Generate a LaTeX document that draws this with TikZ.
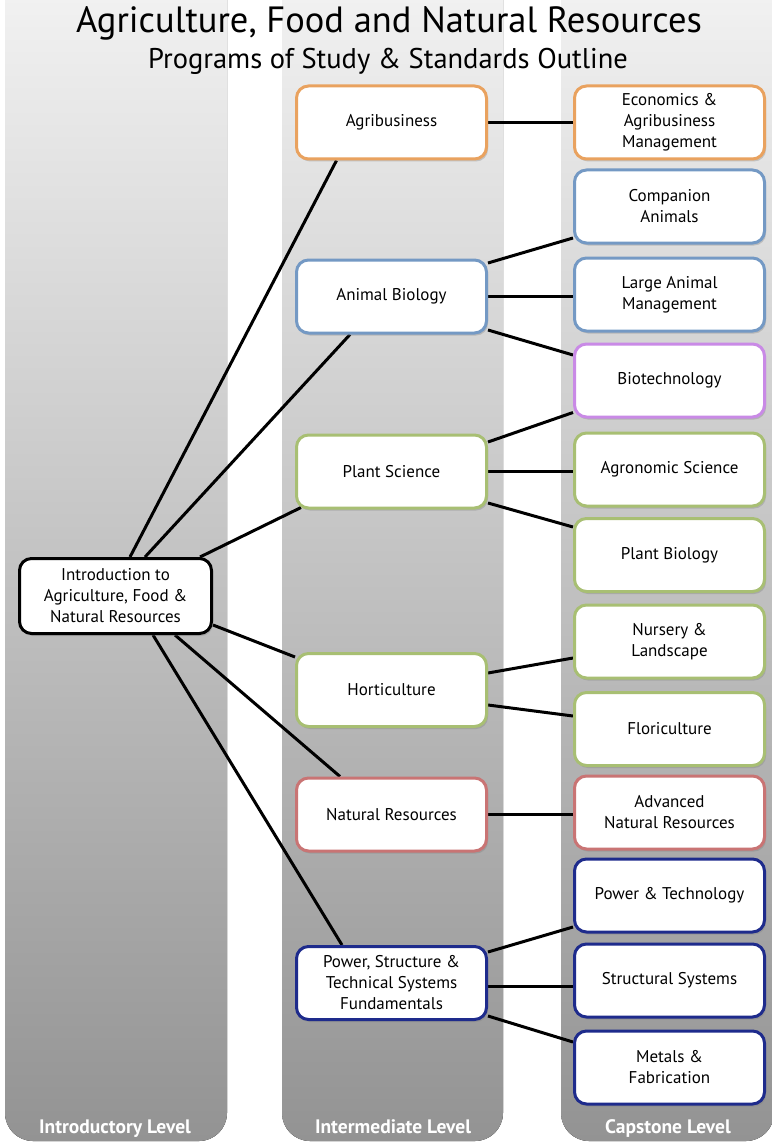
\documentclass[tikz,border=0pt]{standalone}
\usepackage{fontspec}
\setmainfont{PT Sans}
\usetikzlibrary{calc,shadows}
\definecolor{cOrange}{HTML}{E9A25F}
\definecolor{cLBlue}{HTML}{7499C4}
\definecolor{cPurple}{HTML}{C98AE6}
\definecolor{cGreen}{HTML}{A8BF73}
\definecolor{cRed}{HTML}{C97474}
\definecolor{cDBlue}{HTML}{1E2B8C}
\definecolor{colTop}{HTML}{F4F4F4}
\definecolor{colMid}{HTML}{D2D2D2}
\definecolor{colBot}{HTML}{939393}
\pgfdeclarelayer{bg}
\pgfdeclarelayer{edges}
\pgfsetlayers{bg,edges,main}
\tikzset{
  box/.style={draw, line width=3pt, fill=white, rounded corners=12pt,
    minimum width=190pt, minimum height=73pt, align=center, inner sep=2pt,
    font=\fontsize{17}{21}\selectfont,
    drop shadow={opacity=0.35, shadow xshift=1.5pt, shadow yshift=-2.5pt}},
  orangebox/.style={box, draw=cOrange},
  lbluebox/.style={box, draw=cLBlue},
  purplebox/.style={box, draw=cPurple},
  greenbox/.style={box, draw=cGreen},
  redbox/.style={box, draw=cRed},
  dbluebox/.style={box, draw=cDBlue},
  blackbox/.style={box, draw=black},
  conn/.style={line width=3pt, black},
  column/.style={top color=colTop, middle color=colMid, bottom color=colBot, rounded corners=28pt},
  levellabel/.style={text=white, anchor=base, font=\bfseries\fontsize{19.5}{22}\selectfont},
}
\begin{document}
\begin{tikzpicture}[x=1pt,y=-1pt]
\useasboundingbox (0,0) rectangle (771,1142);
\begin{pgfonlayer}{bg}
  \fill[white] (0,0) rectangle (771,1142);
  \fill[column] (5,-40) rectangle (227,1141);
  \fill[column] (282,-40) rectangle (503,1141);
  \fill[column] (561,-40) rectangle (774,1141);
\end{pgfonlayer}

% titles
\node (title) at (389,23) {\fontsize{36.5}{40}\selectfont Agriculture, Food and Natural Resources};
\node (subtitle) at (388,61) {\fontsize{28.5}{32}\selectfont Programs of Study \& Standards Outline};

% level labels
\node[levellabel] (lev1) at (115,1133) {Introductory Level};
\node[levellabel] (lev2) at (393,1133) {Intermediate Level};
\node[levellabel] (lev3) at (668,1133) {Capstone Level};

% introductory
\node[blackbox, minimum width=192pt, minimum height=75pt] (intro) at (115.5,596) {Introduction to\\Agriculture, Food \&\\Natural Resources};

% intermediate
\node[orangebox] (agri) at (391.5,122.5) {Agribusiness};
\node[lbluebox] (animal) at (391.5,296.5) {Animal Biology};
\node[greenbox] (plant) at (391.5,471.5) {Plant Science};
\node[greenbox] (horti) at (391.5,690) {Horticulture};
\node[redbox] (natres) at (391.5,814.5) {Natural Resources};
\node[dbluebox] (power) at (391.5,983) {Power, Structure \&\\Technical Systems\\Fundamentals};

% capstone
\node[orangebox] (econ) at (669.5,122.5) {Economics \&\\Agribusiness\\Management};
\node[lbluebox] (companion) at (669.5,206.5) {Companion\\Animals};
\node[lbluebox] (large) at (669.5,294.5) {Large Animal\\Management};
\node[purplebox] (biotech) at (669.5,380.5) {Biotechnology};
\node[greenbox] (agron) at (669.5,469.5) {Agronomic Science};
\node[greenbox] (plantbio) at (669.5,555) {Plant Biology};
\node[greenbox] (nursery) at (669.5,641.5) {Nursery \&\\Landscape};
\node[greenbox] (flori) at (669.5,729) {Floriculture};
\node[redbox] (advnr) at (669.5,812.5) {Advanced\\Natural Resources};
\node[dbluebox] (ptech) at (669.5,895.5) {Power \& Technology};
\node[dbluebox] (struct) at (669.5,980.5) {Structural Systems};
\node[dbluebox] (metals) at (669.5,1067.5) {Metals \&\\Fabrication};

\begin{pgfonlayer}{edges}
  % from introduction
  \draw[conn] ($(intro.north)+(14.5,0)$) -- ($(agri.south)+(-55,0)$);
  \draw[conn] ($(intro.north)+(29.5,0)$) -- ($(animal.south)+(-41.5,0)$);
  \draw[conn] ($(intro.north)+(84.5,0)$) -- ($(plant.south west)+(6,-2)$);
  \draw[conn] ($(intro.east)+(0,29)$) -- ($(horti.west)+(0,-33)$);
  \draw[conn] ($(intro.south)+(59.5,0)$) -- ($(natres.north)+(-51.5,0)$);
  \draw[conn] ($(intro.south)+(37.5,0)$) -- ($(power.north)+(-49.5,0)$);
  % intermediate to capstone
  \draw[conn] (agri.east) -- (agri.east -| econ.west);
  \draw[conn] ($(animal.east)+(0,-33.5)$) -- ($(companion.west)+(0,31.5)$);
  \draw[conn] (animal.east) -- (animal.east -| large.west);
  \draw[conn] ($(animal.east)+(0,33.5)$) -- ($(biotech.west)+(0,-25.5)$);
  \draw[conn] ($(plant.east)+(0,-29.5)$) -- ($(biotech.west)+(0,32)$);
  \draw[conn] (plant.east) -- (plant.east -| agron.west);
  \draw[conn] ($(plant.east)+(0,31.5)$) -- ($(plantbio.west)+(0,-28)$);
  \draw[conn] ($(horti.east)+(0,-17)$) -- ($(nursery.west)+(0,16.5)$);
  \draw[conn] ($(horti.east)+(0,15)$) -- ($(flori.west)+(0,-13)$);
  \draw[conn] (natres.east) -- (natres.east -| advnr.west);
  \draw[conn] ($(power.east)+(0,-31)$) -- ($(ptech.west)+(0,31.5)$);
  \draw[conn] ($(power.east)+(0,3)$) -- ($(power.east -| struct.west)+(0,3)$);
  \draw[conn] ($(power.east)+(0,33)$) -- ($(metals.west)+(0,-25.5)$);
\end{pgfonlayer}
\end{tikzpicture}
\end{document}
